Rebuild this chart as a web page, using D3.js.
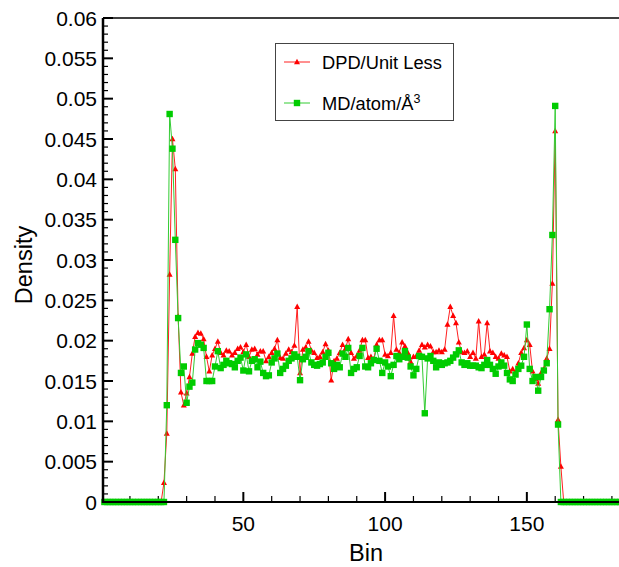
<!DOCTYPE html>
<html>
<head>
<meta charset="utf-8">
<script src="https://cdn.jsdelivr.net/npm/d3@7"></script>
<style>
  body { margin: 0; background: #fff; }
  svg text { font-family: "Liberation Sans", Arial, Helvetica, sans-serif; fill: #000; }
</style>
</head>
<body>
<div id="chart"></div>
<script>
// DPD density (unit less), one value per bin, bins 1..183
const dpd = [
  0, 0, 0, 0, 0, 0, 0, 0, 0, 0, 0, 0, 0, 0, 0, 0, 0, 0, 0, 0, 0,
  0.0024, 0.0085, 0.0282, 0.0450, 0.0413, 0.0230, 0.0136, 0.0120, 0.0135,
  0.0155, 0.0184, 0.0205, 0.0210, 0.0209, 0.0202, 0.0180, 0.0162, 0.0182, 0.0190,
  0.0199, 0.0185, 0.0182, 0.0188, 0.0187, 0.0182, 0.0185, 0.0190, 0.0192, 0.0186,
  0.0195, 0.0180, 0.0189, 0.0190, 0.0183, 0.0187, 0.0187, 0.0175, 0.0180, 0.0185,
  0.0190, 0.0201, 0.0179, 0.0178, 0.0184, 0.0189, 0.0186, 0.0194, 0.0242, 0.0160,
  0.0189, 0.0192, 0.0199, 0.0188, 0.0185, 0.0179, 0.0180, 0.0186, 0.0196, 0.0188,
  0.0151, 0.0175, 0.0178, 0.0185, 0.0195, 0.0190, 0.0202, 0.0185, 0.0178, 0.0181,
  0.0188, 0.0201, 0.0201, 0.0179, 0.0180, 0.0177, 0.0195, 0.0201, 0.0201, 0.0183,
  0.0181, 0.0185, 0.0231, 0.0189, 0.0185, 0.0198, 0.0193, 0.0185, 0.0174, 0.0180,
  0.0181, 0.0188, 0.0195, 0.0192, 0.0195, 0.0193, 0.0186, 0.0186, 0.0188, 0.0186,
  0.0189, 0.0220, 0.0242, 0.0231, 0.0222, 0.0198, 0.0186, 0.0185, 0.0187, 0.0180,
  0.0185, 0.0178, 0.0224, 0.0180, 0.0183, 0.0222, 0.0187, 0.0185, 0.0180, 0.0178,
  0.0184, 0.0182, 0.0180, 0.0162, 0.0165, 0.0160, 0.0172, 0.0185, 0.0191, 0.0201,
  0.0195, 0.0162, 0.0153, 0.0147, 0.0160, 0.0165, 0.0178, 0.0190, 0.0271, 0.0460,
  0.0102, 0.0044, 0, 0, 0, 0, 0, 0, 0, 0,
  0, 0, 0, 0, 0, 0, 0, 0, 0, 0, 0, 0, 0
];

// MD density (atom/Å³), bins 1..183
const md = [
  0, 0, 0, 0, 0, 0, 0, 0, 0, 0, 0, 0, 0, 0, 0, 0, 0, 0, 0, 0, 0, 0,
  0.0120, 0.0481, 0.0438, 0.0325, 0.0228, 0.0160, 0.0168, 0.0123,
  0.0143, 0.0148, 0.0189, 0.0197, 0.0195, 0.0191, 0.0150, 0.0150, 0.0150, 0.0168,
  0.0187, 0.0166, 0.0170, 0.0175, 0.0172, 0.0171, 0.0167, 0.0175, 0.0179, 0.0163,
  0.0183, 0.0162, 0.0175, 0.0177, 0.0167, 0.0174, 0.0160, 0.0156, 0.0157, 0.0173,
  0.0178, 0.0184, 0.0160, 0.0165, 0.0169, 0.0175, 0.0178, 0.0183, 0.0180, 0.0151,
  0.0177, 0.0180, 0.0187, 0.0173, 0.0170, 0.0169, 0.0171, 0.0173, 0.0180, 0.0185,
  0.0172, 0.0165, 0.0170, 0.0167, 0.0184, 0.0180, 0.0191, 0.0160, 0.0165, 0.0167,
  0.0181, 0.0191, 0.0168, 0.0167, 0.0172, 0.0176, 0.0190, 0.0175, 0.0160, 0.0173,
  0.0168, 0.0156, 0.0170, 0.0181, 0.0177, 0.0180, 0.0187, 0.0179, 0.0168, 0.0157,
  0.0165, 0.0181, 0.0180, 0.0110, 0.0178, 0.0181, 0.0175, 0.0167, 0.0173, 0.0170,
  0.0172, 0.0173, 0.0175, 0.0179, 0.0183, 0.0188, 0.0173, 0.0170, 0.0172, 0.0169,
  0.0169, 0.0169, 0.0167, 0.0166, 0.0170, 0.0176, 0.0170, 0.0165, 0.0159, 0.0168,
  0.0173, 0.0169, 0.0160, 0.0152, 0.0150, 0.0158, 0.0165, 0.0169, 0.0180, 0.0220,
  0.0165, 0.0150, 0.0155, 0.0138, 0.0155, 0.0163, 0.0172, 0.0239, 0.0331, 0.0491,
  0.0096, 0, 0, 0, 0, 0, 0, 0, 0, 0,
  0, 0, 0, 0, 0, 0, 0, 0, 0, 0, 0, 0, 0
];

const bins = d3.range(1, dpd.length + 1);
const yMajorTicks = [0, 0.005, 0.01, 0.015, 0.02, 0.025, 0.03, 0.035, 0.04, 0.045, 0.05, 0.055, 0.06];
const xMajorTicks = [50, 100, 150];

const chartWidth = 619, chartHeight = 567;
const plotLeft = 103, plotTop = 18, plotBottom = 502, plotRight = 619;

const svg = d3.select('#chart').append('svg')
  .attr('width', chartWidth)
  .attr('height', chartHeight);

const x = d3.scaleLinear().domain([0.5, 182.5]).range([plotLeft, plotRight]);
const y = d3.scaleLinear().domain([0, 0.06]).range([plotBottom, plotTop]);

// frame
svg.append('line')
  .attr('x1', plotLeft).attr('x2', plotRight)
  .attr('y1', plotTop).attr('y2', plotTop)
  .attr('stroke', '#000').attr('stroke-width', 1.5);

// minor ticks
const yMinor = d3.range(0, 61).map(i => i / 1000);
svg.append('g')
  .selectAll('line')
  .data(yMinor).enter()
  .append('line')
  .attr('x1', plotLeft).attr('x2', d => plotLeft + (Math.round(d * 1000) % 5 === 0 ? 10 : 5))
  .attr('y1', d => y(d)).attr('y2', d => y(d))
  .attr('stroke', '#000')
  .attr('stroke-width', d => Math.round(d * 1000) % 5 === 0 ? 2 : 1.2);

const xMinor = d3.range(10, 190, 10);
svg.append('g')
  .selectAll('line')
  .data(xMinor).enter()
  .append('line')
  .attr('x1', d => x(d)).attr('x2', d => x(d))
  .attr('y1', plotBottom).attr('y2', d => plotBottom - (d % 50 === 0 ? 10 : 6))
  .attr('stroke', '#000')
  .attr('stroke-width', d => d % 50 === 0 ? 2 : 1.2);

// y labels
svg.append('g')
  .selectAll('text')
  .data(yMajorTicks).enter()
  .append('text')
  .attr('x', 97)
  .attr('y', d => y(d))
  .attr('dy', '0.36em')
  .attr('text-anchor', 'end')
  .style('font-size', '21px')
  .text(d => d3.format('~g')(d));

// x labels
svg.append('g')
  .selectAll('text')
  .data(xMajorTicks).enter()
  .append('text')
  .attr('x', d => x(d))
  .attr('y', 531)
  .attr('text-anchor', 'middle')
  .style('font-size', '21px')
  .text(d => d);

// axis titles
svg.append('text')
  .attr('x', 366).attr('y', 561)
  .attr('text-anchor', 'middle')
  .style('font-size', '23.5px')
  .text('Bin');

svg.append('text')
  .attr('transform', 'translate(32, 265) rotate(-90)')
  .attr('text-anchor', 'middle')
  .style('font-size', '23.5px')
  .text('Density');

// series
const line = d3.line()
  .x((d, i) => x(bins[i]))
  .y(d => y(d));

const tri = 'M0,-3.2L3,2.3L-3,2.3Z';

svg.append('path')
  .datum(dpd)
  .attr('d', line)
  .attr('fill', 'none')
  .attr('stroke', '#ff2020')
  .attr('stroke-width', 1);

svg.append('g')
  .selectAll('path')
  .data(dpd).enter()
  .append('path')
  .attr('d', tri)
  .attr('transform', (d, i) => `translate(${x(bins[i])},${y(d)})`)
  .attr('fill', '#ff0000');

svg.append('path')
  .datum(md)
  .attr('d', line)
  .attr('fill', 'none')
  .attr('stroke', '#33cc33')
  .attr('stroke-width', 1);

svg.append('g')
  .selectAll('rect')
  .data(md).enter()
  .append('rect')
  .attr('x', (d, i) => x(bins[i]) - 3.2)
  .attr('y', d => y(d) - 3.2)
  .attr('width', 6.4).attr('height', 6.4)
  .attr('fill', '#00cc00');

// axes lines on top
svg.append('line')
  .attr('x1', plotLeft).attr('x2', plotLeft)
  .attr('y1', plotTop).attr('y2', plotBottom + 1)
  .attr('stroke', '#000').attr('stroke-width', 2.5);
svg.append('line')
  .attr('x1', plotLeft).attr('x2', plotRight)
  .attr('y1', plotBottom).attr('y2', plotBottom)
  .attr('stroke', '#000').attr('stroke-width', 2);

// legend
const legend = svg.append('g');
legend.append('rect')
  .attr('x', 275.5).attr('y', 43.5)
  .attr('width', 178).attr('height', 77)
  .attr('fill', '#fff')
  .attr('stroke', '#444').attr('stroke-width', 1);

legend.append('line')
  .attr('x1', 284).attr('x2', 310).attr('y1', 62).attr('y2', 62)
  .attr('stroke', '#ff2020').attr('stroke-width', 1);
legend.append('path')
  .attr('d', tri)
  .attr('transform', 'translate(297,62)')
  .attr('fill', '#ff0000');
legend.append('text')
  .attr('x', 322).attr('y', 69)
  .style('font-size', '18.3px')
  .text('DPD/Unit Less');

legend.append('line')
  .attr('x1', 284).attr('x2', 310).attr('y1', 103).attr('y2', 103)
  .attr('stroke', '#33cc33').attr('stroke-width', 1);
legend.append('rect')
  .attr('x', 293.8).attr('y', 99.8)
  .attr('width', 6.4).attr('height', 6.4)
  .attr('fill', '#00cc00');
const mdLabel = legend.append('text')
  .attr('x', 322).attr('y', 110)
  .style('font-size', '18.3px');
mdLabel.append('tspan').text('MD/atom/Å');
mdLabel.append('tspan')
  .attr('dy', -7)
  .style('font-size', '12.5px')
  .text('3');
</script>
</body>
</html>
